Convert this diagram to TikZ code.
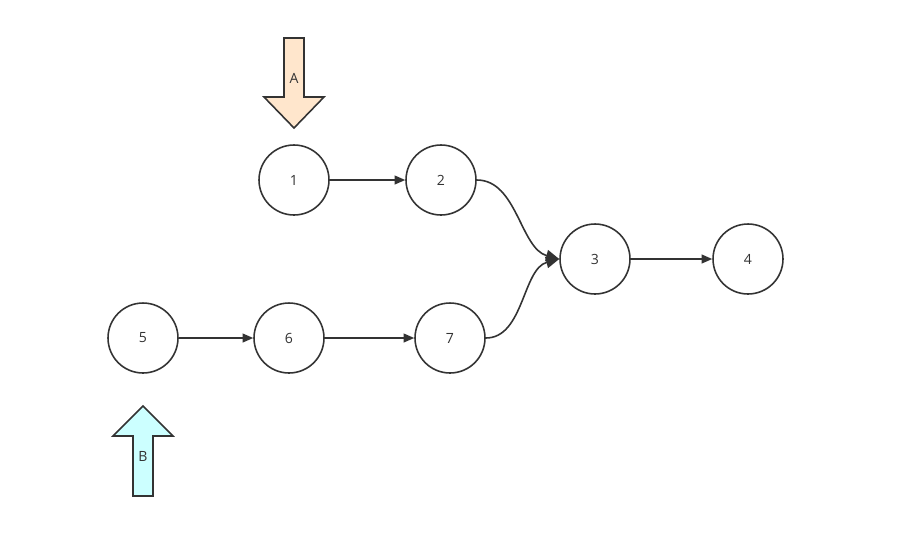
\documentclass[tikz,border=0pt]{standalone}
\usepackage{fontspec}
\setmainfont{Open Sans}
\usetikzlibrary{arrows.meta,positioning}
\definecolor{ink}{HTML}{333333}
\definecolor{fillA}{HTML}{FFE6CC}
\definecolor{fillB}{HTML}{CCFFFF}
\begin{document}
\begin{tikzpicture}[x=0.02cm,y=-0.02cm,
  vert/.style={circle,draw=ink,line width=0.9pt,minimum size=1.4cm,inner sep=0pt,font=\fontsize{8}{9}\selectfont,text=ink,fill=white},
  link/.style={draw=ink,line width=0.9pt,-{Triangle[length=6pt,width=5pt]}},
  curvelink/.style={draw=ink,line width=0.9pt,-{Triangle[length=7.5pt,width=6.5pt]}},
  fatarrow/.style={draw=ink,line width=0.9pt,line join=miter},
  lbl/.style={font=\fontsize{8}{9}\selectfont,text=ink,inner sep=0pt}]
\useasboundingbox (0,0) rectangle (905,535);
\node[vert] (n1) at (294,180) {1};
\node[vert] (n2) at (441,180) {2};
\node[vert] (n3) at (595,259) {3};
\node[vert] (n4) at (748,259) {4};
\node[vert] (n5) at (143,338) {5};
\node[vert] (n6) at (289,338) {6};
\node[vert] (n7) at (450,338) {7};
\draw[link] (n1) -- (n2);
\draw[link] (n5) -- (n6);
\draw[link] (n6) -- (n7);
\draw[link] (n3) -- (n4);
\draw[curvelink] (n2.east) to[out=0,in=165,looseness=0.9] (n3.west);
\draw[curvelink] (n7.east) to[out=0,in=195,looseness=0.9] (n3.west);
% big arrow A
\draw[fatarrow,fill=fillA] (284,38) -- (304,38) -- (304,97) -- (324,97) -- (294,128) -- (264,97) -- (284,97) -- cycle;
\node[lbl] (la) at (294,78) {A};
% big arrow B
\draw[fatarrow,fill=fillB] (133,496) -- (153,496) -- (153,436) -- (173,436) -- (143,406) -- (113,436) -- (133,436) -- cycle;
\node[lbl] (lb) at (143,456) {B};
\end{tikzpicture}
\end{document}
